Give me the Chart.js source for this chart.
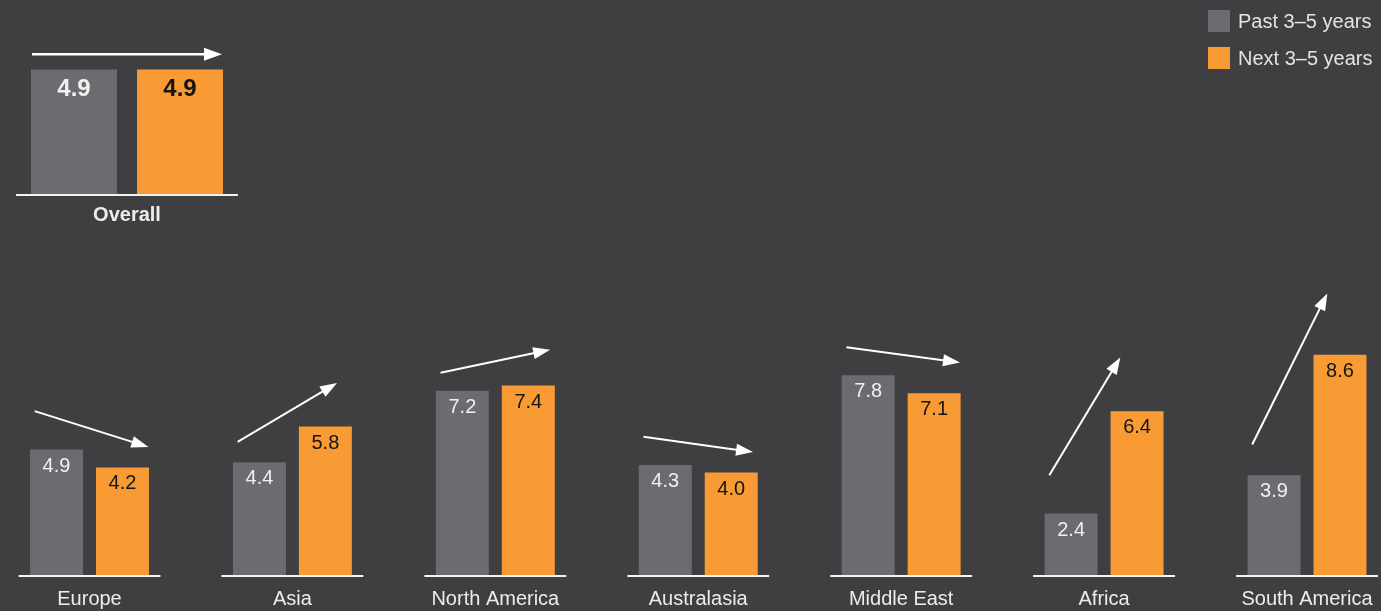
<!DOCTYPE html>
<html>
<head>
<meta charset="utf-8">
<title>Past vs next 3–5 years</title>
<script src="https://cdn.jsdelivr.net/npm/chart.js@4.4.1/dist/chart.umd.min.js"></script>
<style>
  html, body { margin: 0; padding: 0; background: #3f3f41; overflow: hidden; }
  #wrap { position: relative; width: 1381px; height: 611px; overflow: hidden; }
  #regionChart, #overallChart { position: absolute; left: 0; top: 0; }
  #legend { position: absolute; left: 1208px; top: 10px; font: 20px "Liberation Sans", Arial, sans-serif; color: #e4e4e4; }
  .item { display: flex; align-items: center; height: 22px; margin-bottom: 15px; white-space: nowrap; }
  .swatch { width: 22px; height: 22px; margin-right: 8px; }
</style>
</head>
<body>
<div id="wrap">
  <canvas id="regionChart" width="1381" height="640"></canvas>
  <canvas id="overallChart" width="260" height="240"></canvas>
  <div id="legend"></div>
</div>
<script>
// Data
const regions = ['Europe', 'Asia', 'North America', 'Australasia', 'Middle East', 'Africa', 'South America'];
const pastValues = [4.9, 4.4, 7.2, 4.3, 7.8, 2.4, 3.9];
const nextValues = [4.2, 5.8, 7.4, 4.0, 7.1, 6.4, 8.6];
const overallLabels = ['Overall'];
const overallPast = [4.9];
const overallNext = [4.9];
const seriesLabels = ['Past 3–5 years', 'Next 3–5 years'];

// Trend arrows (value units)
const arrowFrom = [6.4, 5.2, 7.9, 5.4, 8.9, 3.9, 5.1];
const arrowTo = [5.0, 7.5, 8.8, 4.8, 8.3, 8.5, 11.0];
const arrowTipShift = [0.29, 0.22, 0.27, 0.27, 0.29, 0.08, 0.10]; // category units right of group centre
const overallArrowAt = [5.5];

const GREY = '#6b6c70';
const ORANGE = '#f89b34';
const FONT = '"Liberation Sans", Arial, sans-serif';

Chart.defaults.font.family = FONT;
Chart.defaults.animation = false;

function drawArrow(ctx, x1, y1, x2, y2, head, halfW) {
    const a = Math.atan2(y2 - y1, x2 - x1);
    const c = Math.cos(a), s = Math.sin(a);
    ctx.beginPath();
    ctx.moveTo(x1, y1);
    ctx.lineTo(x2 - c * head * 0.8, y2 - s * head * 0.8);
    ctx.stroke();
    ctx.beginPath();
    ctx.moveTo(x2, y2);
    ctx.lineTo(x2 - head * c + halfW * s, y2 - head * s - halfW * c);
    ctx.lineTo(x2 - head * c - halfW * s, y2 - head * s + halfW * c);
    ctx.closePath();
    ctx.fill();
}

// value labels, baselines and arrows
const decorations = {
    id: 'decorations',
    afterDatasetsDraw(chart, args, opts) {
        const ctx = chart.ctx;
        const x = chart.scales.x, y = chart.scales.y;
        const past = chart.getDatasetMeta(0).data;
        const next = chart.getDatasetMeta(1).data;
        ctx.save();

        // baseline under each group
        ctx.strokeStyle = '#f2f2f2';
        ctx.lineWidth = 2;
        past.forEach((bar, i) => {
            const l = bar.x - bar.width / 2 - opts.lineExtend;
            const r = next[i].x + next[i].width / 2 + opts.lineExtend;
            ctx.beginPath();
            ctx.moveTo(l, y.bottom + 1);
            ctx.lineTo(r, y.bottom + 1);
            ctx.stroke();
        });

        // values inside the bars
        ctx.font = opts.font;
        ctx.textAlign = 'center';
        ctx.textBaseline = 'middle';
        chart.data.datasets.forEach((ds, di) => {
            ctx.fillStyle = di === 0 ? '#f0f0f0' : '#141414';
            chart.getDatasetMeta(di).data.forEach((bar, i) => {
                ctx.fillText(ds.data[i].toFixed(1), bar.x, bar.y + opts.labelOffset);
            });
        });

        // arrows
        ctx.strokeStyle = '#ffffff';
        ctx.fillStyle = '#ffffff';
        ctx.lineWidth = opts.arrowWidth;
        if (opts.overall) {
            past.forEach((bar, i) => {
                const ay = y.getPixelForValue(overallArrowAt[i]);
                drawArrow(ctx, bar.x - bar.width / 2 + 1, ay, next[i].x + next[i].width / 2 - 1, ay, 18, 6.5);
            });
        } else {
            regions.forEach((r, i) => {
                drawArrow(ctx,
                    x.getPixelForValue(i - 0.27), y.getPixelForValue(arrowFrom[i]),
                    x.getPixelForValue(i + arrowTipShift[i]), y.getPixelForValue(arrowTo[i]),
                    17, 6);
            });
        }
        ctx.restore();
    }
};

function axisX(size, bold, pad, lineHeight, offset) {
    return {
        offset: offset,
        grid: { display: false, drawTicks: false },
        border: { display: false },
        ticks: {
            color: '#ececec',
            padding: pad,
            font: { size: size, weight: bold ? 'bold' : 'normal', lineHeight: lineHeight }
        }
    };
}

// Regional chart
new Chart(document.getElementById('regionChart'), {
    type: 'bar',
    data: {
        labels: regions,
        datasets: [
            { label: seriesLabels[0], data: pastValues, backgroundColor: GREY, clip: false },
            { label: seriesLabels[1], data: nextValues, backgroundColor: ORANGE, clip: false }
        ]
    },
    plugins: [decorations],
    options: {
        responsive: false,
        categoryPercentage: 0.65,
        barPercentage: 0.803,
        layout: { padding: { top: 280.6, left: 89.5, right: 74, bottom: 17 } },
        plugins: {
            legend: { display: false },
            tooltip: { enabled: false },
            decorations: { font: '20px ' + FONT, labelOffset: 16.5, lineExtend: 11.5, arrowWidth: 2, overall: false }
        },
        scales: {
            x: axisX(20, false, 4, '40px', false),
            y: { display: false, min: 0, max: 11.5 }
        }
    }
});

// Overall chart
new Chart(document.getElementById('overallChart'), {
    type: 'bar',
    data: {
        labels: overallLabels,
        datasets: [
            { label: seriesLabels[0], data: overallPast, backgroundColor: GREY, clip: false },
            { label: seriesLabels[1], data: overallNext, backgroundColor: ORANGE, clip: false }
        ]
    },
    plugins: [decorations],
    options: {
        responsive: false,
        categoryPercentage: 1,
        barPercentage: 0.811,
        layout: { padding: { top: 41.6, left: 21, right: 27, bottom: 4 } },
        plugins: {
            legend: { display: false },
            tooltip: { enabled: false },
            decorations: { font: 'bold 24px ' + FONT, labelOffset: 20, lineExtend: 15, arrowWidth: 2.5, overall: true }
        },
        scales: {
            x: axisX(20, true, 9, 1.2, true),
            y: { display: false, min: 0, max: 6 }
        }
    }
});

// Legend
const legend = document.getElementById('legend');
[GREY, ORANGE].forEach((col, i) => {
    const item = document.createElement('div');
    item.className = 'item';
    item.innerHTML = '<span class="swatch" style="background:' + col + '"></span><span>' + seriesLabels[i] + '</span>';
    legend.appendChild(item);
});
</script>
</body>
</html>
